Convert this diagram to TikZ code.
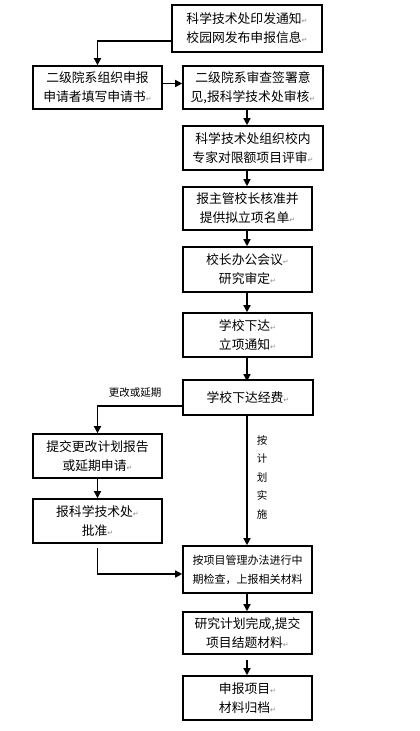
\documentclass[tikz,border=0pt]{standalone}
\usepackage{fontspec}
\setmainfont{Noto Sans CJK SC}
\newfontfamily\dejavu{DejaVu Sans}
\usetikzlibrary{arrows.meta}
\newcommand\pmark{{\dejavu\color{black!45}\fontsize{7}{7}\selectfont ↵}}
\begin{document}
\begin{tikzpicture}[x=1pt,y=-1pt,
  box/.style={draw=black,line width=1.6pt,inner sep=0pt,align=center,
    font=\fontsize{12.8}{19}\selectfont},
  smallbox/.style={box,font=\fontsize{11}{19}\selectfont},
  arr/.style={line width=1.4pt,-{Triangle[length=7pt,width=7pt]}},
  ln/.style={line width=1.4pt},
  lbl/.style={inner sep=0pt,font=\fontsize{10.5}{12}\selectfont}]
\useasboundingbox[fill=white] (0,0) rectangle (420,731);
\node[box,minimum width=150pt,minimum height=47pt] (b1) at (247,28.5) {科学技术处印发通知\pmark\\校园网发布申报信息\pmark};
\node[box,minimum width=129pt,minimum height=43pt] (b2) at (97.5,87.5) {二级院系组织申报\\申请者填写申请书\pmark};
\node[box,minimum width=140pt,minimum height=43pt] (b3) at (253,87.5) {二级院系审查签署意\\见,报科学技术处审核\pmark};
\node[box,minimum width=140pt,minimum height=44pt] (b4) at (253,148) {科学技术处组织校内\\专家对限额项目评审\pmark};
\node[box,minimum width=129pt,minimum height=43pt] (b5) at (247.5,208.5) {报主管校长核准并\\提供拟立项名单\pmark};
\node[box,minimum width=129pt,minimum height=45pt] (b6) at (247.5,269.5) {校长办公会议\pmark\\研究审定\pmark};
\node[box,minimum width=129pt,minimum height=44pt] (b7) at (247.5,335) {学校下达\pmark\\立项通知\pmark};
\node[box,minimum width=130pt,minimum height=35pt] (b8) at (248,397.5) {学校下达经费\pmark};
\node[box,minimum width=129pt,minimum height=44pt] (b9) at (97.5,456) {提交更改计划报告\\或延期申请\pmark};
\node[box,minimum width=129pt,minimum height=44pt] (b10) at (97.5,521) {报科学技术处\pmark\\批准\pmark};
\node[smallbox,minimum width=129pt,minimum height=47pt] (b11) at (247.5,569.5) {按项目管理办法进行中\\期检查，上报相关材料};
\node[box,minimum width=129pt,minimum height=42pt] (b12) at (247.5,633) {研究计划完成,提交\\项目结题材料\pmark};
\node[box,minimum width=129pt,minimum height=44pt] (b13) at (247.5,698) {申报项目\pmark\\材料归档\pmark};
\coordinate (col) at (247,0);
\node[lbl] (l1) at (135,393) {更改或延期};
\node[lbl,align=center,font=\fontsize{10.5}{18.5}\selectfont] (l2) at (262,477) {按\\计\\划\\实\\施};
\draw[arr] ([yshift=-12.5pt]b1.west) -| (b2.north);
\draw[arr] ([yshift=4pt]b2.east) -- ([yshift=4pt]b3.west);
\draw[arr] (b3.south -| col) -- (b4.north -| col);
\draw[arr] (b4.south -| col) -- (b5.north -| col);
\draw[arr] (b5.south -| col) -- (b6.north -| col);
\draw[arr] (b6.south -| col) -- (b7.north -| col);
\draw[arr] (b7.south -| col) -- ([yshift=-2pt]b8.north -| col);
\draw[arr] ([yshift=-8.5pt]b8.west) -| (b9.north);
\draw[arr] (b9.south) -- (b10.north);
\draw[arr] ([yshift=-4pt]b10.south) |- ([yshift=-4.5pt]b11.west);
\draw[arr] (b8.south -| col) -- (b11.north -| col);
\draw[arr] (b11.south -| col) -- (b12.north -| col);
\draw[arr] ([yshift=-5pt]b12.south -| col) -- (b13.north -| col);
\end{tikzpicture}
\end{document}
